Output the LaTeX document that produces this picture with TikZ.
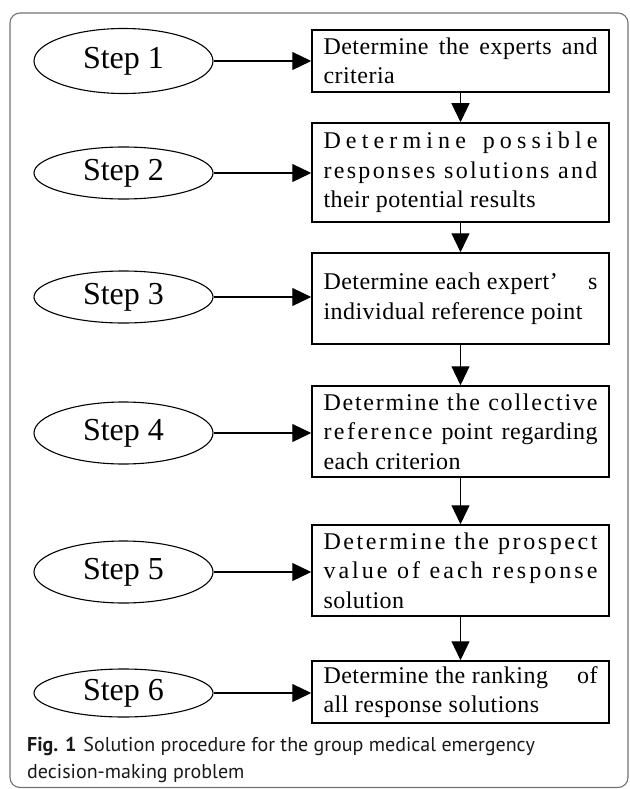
\documentclass[tikz,border=0pt]{standalone}
\usepackage{fontspec}
\setmainfont{Liberation Serif}
\newfontfamily\boxfont[LetterSpace=2]{Liberation Serif}
\newfontfamily\capfont{PT Sans}
\usetikzlibrary{shapes.geometric,arrows.meta}
\makeatletter
\newcommand\spr[1]{\def\spr@first{1}\@tfor\spr@c:=#1\do{\ifx\spr@first\empty\hfil\fi\def\spr@first{}\spr@c}}
\makeatother
\newcommand\jl[1]{\makebox[274pt][s]{#1}}
\newcommand\bt[1]{\parbox{274pt}{\boxfont\fontsize{24pt}{29.5pt}\selectfont\raggedright #1}}
\tikzset{
  stepell/.style={draw, ellipse, line width=1.1pt, minimum width=179pt, inner sep=0pt,
    font=\fontsize{32pt}{36pt}\selectfont},
  actbox/.style={draw, rectangle, line width=1.5pt, minimum width=297pt, inner sep=0pt},
  flow/.style={line width=1.2pt, -{Triangle[length=19pt,width=18pt]}},
  frame/.style={draw=black!55, line width=1.1pt, rounded corners=10pt},
  captxt/.style={anchor=base west, inner sep=0pt, text=black!90,
    font=\capfont\fontsize{20pt}{27pt}\selectfont}
}
\begin{document}
\begin{tikzpicture}[x=1pt, y=-1pt]
\useasboundingbox (0,0) rectangle (629,789);
\draw[frame] (10,13) rectangle (628,787.5);

\node[stepell, minimum height=65pt] (e1) at (123.5,61) {Step 1};
\node[stepell, minimum height=52pt] (e2) at (123.5,173) {Step 2};
\node[stepell, minimum height=52pt] (e3) at (123.5,297) {Step 3};
\node[stepell, minimum height=62pt] (e4) at (123.5,433) {Step 4};
\node[stepell, minimum height=62pt] (e5) at (123.5,572) {Step 5};
\node[stepell, minimum height=48pt] (e6) at (123.5,693) {Step 6};

\node[actbox, minimum height=62pt] (b1) at (460.5,61) {\bt{\jl{Determine the experts and}\\criteria}};
\node[actbox, minimum height=99pt] (b2) at (460.5,172.5) {\bt{\jl{\spr{Determine}\hfil\hfil\ \spr{possible}}\\
  \jl{\spr{responses}\hfil\ \spr{solutions}\hfil\ \spr{and}}\\their potential results}};
\node[actbox, minimum height=91pt] (b3) at (460.5,298.5) {\bt{\jl{Determine each expert’\hfil s}\\individual reference point}};
\node[actbox, minimum height=91pt] (b4) at (460.5,431.5) {\bt{\jl{\spr{Determine}\hfil\ \spr{the}\hfil\ \spr{collective}}\\
  \jl{\spr{reference}\hfil\ point\hfil\ regarding}\\each criterion}};
\node[actbox, minimum height=91pt] (b5) at (460.5,570.5) {\bt{\jl{\spr{Determine}\hfil\ \spr{the}\hfil\ \spr{prospect}}\\
  \jl{\spr{value}\hfil\ \spr{of}\hfil\ \spr{each}\hfil\ \spr{response}}\\solution}};
\node[actbox, minimum height=62pt] (b6) at (460.5,692) {\bt{\jl{Determine the ranking\hfil of}\\all response solutions}};

\foreach \i in {1,...,6}{
  \draw[flow] (e\i.east) -- (e\i.east -| b\i.west);
}
\draw[flow] (b1.south) -- (b2.north);
\draw[flow] (b2.south) -- (b3.north);
\draw[flow] (b3.south) -- (b4.north);
\draw[flow] (b4.south) -- (b5.north);
\draw[flow] (b5.south) -- (b6.north);

\node[captxt] (cap1) at (27,751) {\textbf{Fig. 1}\hspace{7pt}Solution procedure for the group medical emergency};
\node[captxt] (cap2) at (27,778) {decision-making problem};
\end{tikzpicture}
\end{document}
